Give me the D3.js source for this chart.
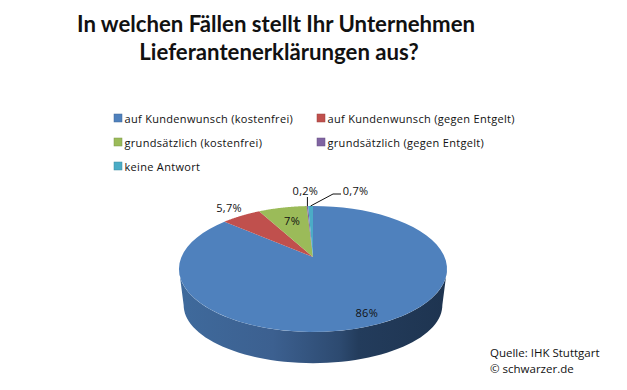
<!DOCTYPE html>
<html>
<head>
<meta charset="utf-8">
<script src="https://cdn.jsdelivr.net/npm/d3@7"></script>
<style>
    html, body { margin: 0; padding: 0; background: #fff; }
    text { fill: #111; }
</style>
</head>
<body>
<div id="chart"></div>
<script>
const categories = [
    "auf Kundenwunsch (kostenfrei)",
    "auf Kundenwunsch (gegen Entgelt)",
    "grundsätzlich (kostenfrei)",
    "grundsätzlich (gegen Entgelt)",
    "keine Antwort"
];
const values = [86, 5.7, 7, 0.2, 0.7];
const valueLabels = ["86%", "5,7%", "7%", "0,2%", "0,7%"];
const colors = ["#4f81bd", "#c0504d", "#9bbb59", "#8064a2", "#4bacc6"];
const titleLines = ["In welchen Fällen stellt Ihr Unternehmen", "Lieferantenerklärungen aus?"];
const sourceLines = ["Quelle: IHK Stuttgart", "© schwarzer.de"];

const width = 627, height = 390;

const svg = d3.select("#chart").append("svg")
    .attr("width", width)
    .attr("height", height)
    .style("display", "block");

// title
svg.selectAll("text.title")
    .data(titleLines)
    .enter()
    .append("text")
    .attr("class", "title")
    .attr("x", (d, i) => i ? 279 : 276)
    .attr("y", (d, i) => 32 + i * 28)
    .attr("text-anchor", "middle")
    .attr("font-family", "Lato")
    .attr("font-weight", 700)
    .attr("font-size", "22.2px")
    .text(d => d);

// legend
const legend = svg.selectAll("g.legend")
    .data(categories)
    .enter()
    .append("g")
    .attr("class", "legend")
    .attr("transform", (d, i) => `translate(${i % 2 ? 317 : 114}, ${114 + Math.floor(i / 2) * 24})`);

legend.append("rect")
    .attr("width", 8)
    .attr("height", 8)
    .attr("fill", (d, i) => colors[i])
    .attr("stroke", (d, i) => d3.color(colors[i]).darker(0.6))
    .attr("stroke-width", 0.5);

legend.append("text")
    .attr("x", 10.5)
    .attr("y", 8.5)
    .attr("font-family", "Open Sans")
    .attr("font-size", "11px")
    .attr("letter-spacing", "0.31px")
    .text(d => d);

// perspective projection of the pie disc, Excel 3-D style
const cx = 313, apexY = 257;
const persp = 0.19;
const project = (angle, a, b, dy) => {
    const u = Math.sin(angle), v = -Math.cos(angle);
    const w = 1 - persp * v;
    return [cx + a * u / w, apexY + dy + b * v / w];
};
const topPoint = angle => project(angle, 131.6, 60.7, 0);
const basePoint = angle => project(angle, 127, 56, 37);

const pie = d3.pie().value(d => d).sort(null);
const slices = pie(values);
const line = d3.line();

const sweep = (a0, a1, fn) => d3.range(0, 61).map(i => fn(a0 + (a1 - a0) * i / 60));

// side wall, horizontal gradient
const defs = svg.append("defs");
const sideGradient = defs.append("linearGradient")
    .attr("id", "side")
    .attr("gradientUnits", "userSpaceOnUse")
    .attr("x1", 179).attr("x2", 447).attr("y1", 0).attr("y2", 0);
[[0, "#3f6a9c"], [0.35, "#3c6090"], [0.6, "#2d4a70"], [0.67, "#233c5c"], [1, "#1e3450"]].forEach(s => {
    sideGradient.append("stop").attr("offset", s[0]).attr("stop-color", s[1]);
});

svg.append("path")
    .attr("d", line(sweep(Math.PI * 0.56, Math.PI * 1.44, topPoint)
        .concat(sweep(Math.PI * 1.44, Math.PI * 0.56, basePoint))) + "Z")
    .attr("fill", "url(#side)");

// top face
svg.selectAll("path.slice")
    .data(slices)
    .enter()
    .append("path")
    .attr("class", "slice")
    .attr("d", d => line([[cx, apexY]].concat(sweep(d.startAngle, d.endAngle, topPoint))) + "Z")
    .attr("fill", (d, i) => colors[i]);

// value labels, placed relative to each slice
const mid = d => (d.startAngle + d.endAngle) / 2;
const labelOffset = [[24, 6], [-12, -8], [1, -6], [-2, -15], [45, -15]];
const labelPos = (d, i) => {
    const p = i === 0 ? project(mid(d), 131.6 * 0.45, 60.7 * 0.75, 0)
        : i === 2 ? project(mid(d), 131.6 * 0.72, 60.7 * 0.6, 0)
        : topPoint(mid(d));
    return [p[0] + labelOffset[i][0], p[1] + labelOffset[i][1]];
};

svg.selectAll("text.value")
    .data(slices)
    .enter()
    .append("text")
    .attr("class", "value")
    .attr("x", (d, i) => labelPos(d, i)[0])
    .attr("y", (d, i) => labelPos(d, i)[1] + 4)
    .attr("text-anchor", "middle")
    .attr("font-family", "Open Sans")
    .attr("font-size", "11px")
    .attr("letter-spacing", "0.3px")
    .text((d, i) => valueLabels[i]);

// leader lines for the two thin slices
const leader = [slices[3], slices[4]];
svg.append("path")
    .attr("d", line([topPoint(mid(leader[0])), [topPoint(mid(leader[0]))[0], 197]]))
    .attr("fill", "none").attr("stroke", "#111");
svg.append("path")
    .attr("d", line([topPoint(mid(leader[1])), [333, 194], [341, 194]]))
    .attr("fill", "none").attr("stroke", "#111");

// source note
svg.selectAll("text.source")
    .data(sourceLines)
    .enter()
    .append("text")
    .attr("class", "source")
    .attr("x", 490)
    .attr("y", (d, i) => 357 + i * 15.5)
    .attr("font-family", "Open Sans")
    .attr("font-size", "11.5px")
    .text(d => d);
</script>
</body>
</html>
